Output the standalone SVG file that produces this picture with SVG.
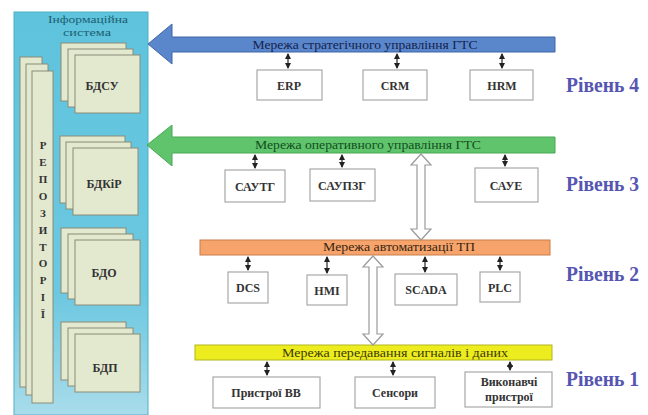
<svg xmlns="http://www.w3.org/2000/svg" width="648" height="415" viewBox="0 0 648 415">
<defs>
<linearGradient id="panelGrad" x1="0" y1="0" x2="0" y2="1">
<stop offset="0" stop-color="#5ec3dd"/>
<stop offset="0.7" stop-color="#6cc8e0"/>
<stop offset="1" stop-color="#a9dcea"/>
</linearGradient>
<marker id="ah" viewBox="0 0 6 6" refX="5" refY="3" markerWidth="6" markerHeight="6" orient="auto-start-reverse" markerUnits="userSpaceOnUse">
<path d="M0,0 L6,3 L0,6 Z" fill="#222"/>
</marker>
</defs>
<style>
text{font-family:"Liberation Serif","DejaVu Serif","Times New Roman",serif}
.sheet{fill:#e3e9cf;stroke:#8c8c78;stroke-width:1}
.box{fill:#ffffff;stroke:#a8a8a8;stroke-width:1.2}
.blbl{font-size:12px;font-weight:bold;fill:#333;text-anchor:middle}
.dlbl{font-size:12px;font-weight:bold;fill:#333;text-anchor:middle}
.bar{font-size:12px;text-anchor:middle}
.lvl{font-size:20px;font-weight:bold;fill:#5656b2}
.conn{stroke:#222;stroke-width:1.2;fill:none;marker-start:url(#ah);marker-end:url(#ah)}
.hollow{fill:#ffffff;stroke:#9a9a9a;stroke-width:1.2}
.rep{font-size:11px;font-weight:bold;fill:#333;text-anchor:middle}
.ttl{font-size:10px;fill:#1d5f70;text-anchor:middle}
</style>
<rect width="648" height="415" fill="#ffffff"/>

<g id="info-system">
<rect x="14" y="12" width="134" height="403" fill="url(#panelGrad)" stroke="#4fb0c8" stroke-width="1"/>
<text class="ttl" x="88" y="23" textLength="80" lengthAdjust="spacingAndGlyphs">Інформаційна</text>
<text class="ttl" x="87" y="36" textLength="48" lengthAdjust="spacingAndGlyphs">система</text>
</g>

<g id="repository">
<rect class="sheet" x="20" y="57" width="22" height="330"/>
<rect class="sheet" x="26" y="64" width="22" height="331"/>
<rect class="sheet" x="32" y="71" width="21" height="332"/>
<text class="rep" x="43" y="149">Р</text>
<text class="rep" x="43" y="166">Е</text>
<text class="rep" x="43" y="183">П</text>
<text class="rep" x="43" y="200">О</text>
<text class="rep" x="43" y="217">З</text>
<text class="rep" x="43" y="234">И</text>
<text class="rep" x="43" y="251">Т</text>
<text class="rep" x="43" y="267">О</text>
<text class="rep" x="43" y="284">Р</text>
<text class="rep" x="43" y="301">І</text>
<text class="rep" x="43" y="318">Ї</text>
</g>

<g id="db-bdsu">
<rect class="sheet" x="61" y="43" width="65" height="58"/>
<rect class="sheet" x="68" y="49" width="65" height="58"/>
<rect class="sheet" x="75" y="55" width="65" height="58"/>
<text class="dlbl" x="102" y="90">БДСУ</text>
</g>
<g id="db-bdkir">
<rect class="sheet" x="60" y="136" width="65" height="67"/>
<rect class="sheet" x="66" y="142" width="65" height="67"/>
<rect class="sheet" x="73" y="148" width="65" height="67"/>
<text class="dlbl" x="104" y="188">БДКіР</text>
</g>
<g id="db-bdo">
<rect class="sheet" x="61" y="228" width="65" height="65"/>
<rect class="sheet" x="68" y="234" width="65" height="65"/>
<rect class="sheet" x="75" y="240" width="65" height="65"/>
<text class="dlbl" x="104" y="277">БДО</text>
</g>
<g id="db-bdp">
<rect class="sheet" x="61" y="322" width="65" height="58"/>
<rect class="sheet" x="68" y="328" width="65" height="58"/>
<rect class="sheet" x="75" y="334" width="65" height="58"/>
<text class="dlbl" x="105" y="372">БДП</text>
</g>

<g id="net-strategic">
<path d="M148,44 L172,24 L172,37 L555,37 L555,52 L172,52 L172,64 Z" fill="#5a86cc" stroke="#3f66a8" stroke-width="1"/>
<text class="bar" x="365" y="49" fill="#14234e" textLength="225" lengthAdjust="spacingAndGlyphs">Мережа стратегічного управління ГТС</text>
</g>
<g id="net-operative">
<path d="M147,145 L172,125 L172,137 L555,137 L555,153 L172,153 L172,166 Z" fill="#5fc46c" stroke="#4aa857" stroke-width="1"/>
<text class="bar" x="368" y="149" fill="#134d1e" textLength="226" lengthAdjust="spacingAndGlyphs">Мережа оперативного управління ГТС</text>
</g>
<g id="net-automation">
<rect x="200" y="240" width="350" height="15" fill="#f6a46c" stroke="#c87e4c" stroke-width="1"/>
<text class="bar" x="399" y="251" fill="#3a2410" textLength="152" lengthAdjust="spacingAndGlyphs">Мережа автоматизації ТП</text>
</g>
<g id="net-signals">
<rect x="195" y="345" width="357" height="15" fill="#ecec1e" stroke="#b5b520" stroke-width="1"/>
<text class="bar" x="395" y="357" fill="#3e3a00" textLength="226" lengthAdjust="spacingAndGlyphs">Мережа передавання сигналів і даних</text>
</g>

<g id="erp"><rect class="box" x="257" y="70" width="65" height="30"/><text class="blbl" x="289" y="90">ERP</text></g>
<g id="crm"><rect class="box" x="363" y="70" width="64" height="30"/><text class="blbl" x="395" y="90">CRM</text></g>
<g id="hrm"><rect class="box" x="470" y="70" width="63" height="30"/><text class="blbl" x="502" y="90">HRM</text></g>

<g id="sautg"><rect class="box" x="225" y="170" width="60" height="32"/><text class="blbl" x="255" y="191">САУТГ</text></g>
<g id="saupzg"><rect class="box" x="310" y="169" width="65" height="32"/><text class="blbl" x="342" y="190">САУПЗГ</text></g>
<g id="saue"><rect class="box" x="475" y="168" width="63" height="34"/><text class="blbl" x="506" y="190">САУЕ</text></g>

<g id="dcs"><rect class="box" x="228" y="272" width="40" height="31"/><text class="blbl" x="248" y="292">DCS</text></g>
<g id="hmi"><rect class="box" x="307" y="275" width="40" height="30"/><text class="blbl" x="327" y="295">HMI</text></g>
<g id="scada"><rect class="box" x="395" y="274" width="62" height="31"/><text class="blbl" x="426" y="294">SCADA</text></g>
<g id="plc"><rect class="box" x="480" y="272" width="40" height="30"/><text class="blbl" x="500" y="292">PLC</text></g>

<g id="io-devices"><rect class="box" x="213" y="377" width="107" height="31"/><text class="blbl" x="266" y="397">Пристрої ВВ</text></g>
<g id="sensors"><rect class="box" x="355" y="377" width="80" height="31"/><text class="blbl" x="395" y="397">Сенсори</text></g>
<g id="actuators"><rect class="box" x="465" y="372" width="87" height="35"/><text class="blbl" x="509" y="386" font-size="11">Виконавчі</text><text class="blbl" x="509" y="401" font-size="11">пристрої</text></g>

<g id="levels">
<text class="lvl" x="566" y="92" textLength="73" lengthAdjust="spacingAndGlyphs">Рівень 4</text>
<text class="lvl" x="566" y="191" textLength="73" lengthAdjust="spacingAndGlyphs">Рівень 3</text>
<text class="lvl" x="566" y="281" textLength="73" lengthAdjust="spacingAndGlyphs">Рівень 2</text>
<text class="lvl" x="566" y="386" textLength="73" lengthAdjust="spacingAndGlyphs">Рівень 1</text>
</g>

<g id="connectors">
<line class="conn" x1="288" y1="54" x2="288" y2="68"/>
<line class="conn" x1="397" y1="54" x2="397" y2="68"/>
<line class="conn" x1="502" y1="54" x2="502" y2="68"/>
<line class="conn" x1="255" y1="155" x2="255" y2="168"/>
<line class="conn" x1="342" y1="155" x2="342" y2="167"/>
<line class="conn" x1="505" y1="155" x2="505" y2="166"/>
<line class="conn" x1="248" y1="257" x2="248" y2="270"/>
<line class="conn" x1="327" y1="257" x2="327" y2="273"/>
<line class="conn" x1="425" y1="257" x2="425" y2="272"/>
<line class="conn" x1="500" y1="257" x2="500" y2="270"/>
<line class="conn" x1="267" y1="362" x2="267" y2="375"/>
<line class="conn" x1="393" y1="362" x2="393" y2="375"/>
<line class="conn" x1="510" y1="362" x2="510" y2="370"/>
<path class="hollow" d="M421,154 L431,165 L425,165 L425,229 L431,229 L421,240 L411,229 L417,229 L417,165 L411,165 Z"/>
<path class="hollow" d="M373,256 L383,267 L377,267 L377,334 L383,334 L373,345 L363,334 L369,334 L369,267 L363,267 Z"/>
</g>
</svg>
